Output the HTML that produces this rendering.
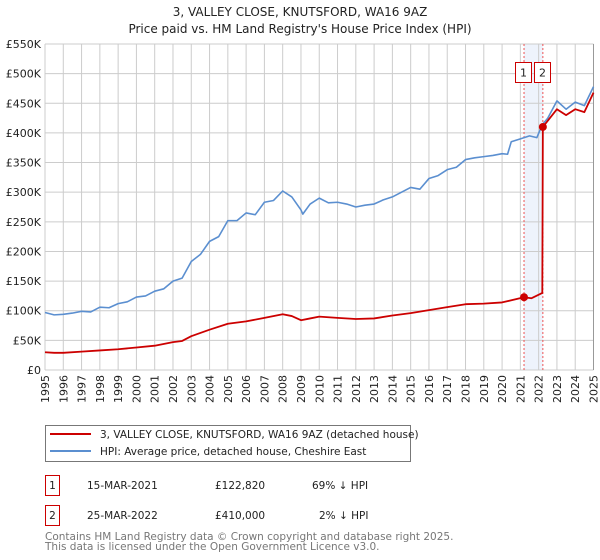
<!DOCTYPE html>
<html><head><meta charset="utf-8">
<style>
body{margin:0;background:#fff;font-family:"DejaVu Sans","Liberation Sans",sans-serif;}
svg{display:block}
</style></head>
<body>
<svg width="600" height="560" xmlns="http://www.w3.org/2000/svg" font-family="DejaVu Sans, Liberation Sans, sans-serif">
<text x="300" y="16" text-anchor="middle" font-size="12" fill="#222">3, VALLEY CLOSE, KNUTSFORD, WA16 9AZ</text>
<text x="300" y="33" text-anchor="middle" font-size="12" fill="#222">Price paid vs. HM Land Registry's House Price Index (HPI)</text>
<g id="grid"></g>
<g id="marks"></g>
<g id="axes"></g>

<g>
<rect x="45.5" y="425.5" width="365" height="36" fill="#fff" stroke="#777"/>
<line x1="50" y1="434" x2="91" y2="434" stroke="#cc0000" stroke-width="2"/>
<text x="100" y="438" font-size="10.5" fill="#222">3, VALLEY CLOSE, KNUTSFORD, WA16 9AZ (detached house)</text>
<line x1="50" y1="451" x2="91" y2="451" stroke="#5b8fd0" stroke-width="2"/>
<text x="100" y="455" font-size="10.5" fill="#222">HPI: Average price, detached house, Cheshire East</text>
</g>

<g font-size="10.5" fill="#222">
<rect x="45.5" y="475.5" width="14" height="20" fill="none" stroke="#cc0000"/>
<text x="52.5" y="489" text-anchor="middle">1</text>
<text x="87" y="489">15-MAR-2021</text>
<text x="215" y="489">£122,820</text>
<text x="312" y="489">69% ↓ HPI</text>
<rect x="45.5" y="505.5" width="14" height="20" fill="none" stroke="#cc0000"/>
<text x="52.5" y="519" text-anchor="middle">2</text>
<text x="87" y="519">25-MAR-2022</text>
<text x="215" y="519">£410,000</text>
<text x="319" y="519">2% ↓ HPI</text>
</g>
<text x="45" y="540" font-size="10.5" fill="#777">Contains HM Land Registry data © Crown copyright and database right 2025.</text>
<text x="45" y="550" font-size="10.5" fill="#777">This data is licensed under the Open Government Licence v3.0.</text>
</svg>
<script>
const yTicks=[0,50,100,150,200,250,300,350,400,450,500,550];
const yTickLabels=["£0","£50K","£100K","£150K","£200K","£250K","£300K","£350K","£400K","£450K","£500K","£550K"];
const xYears=[1995,1996,1997,1998,1999,2000,2001,2002,2003,2004,2005,2006,2007,2008,2009,2010,2011,2012,2013,2014,2015,2016,2017,2018,2019,2020,2021,2022,2023,2024,2025];
const hpiT=[1995,1995.5,1996,1996.5,1997,1997.5,1998,1998.5,1999,1999.5,2000,2000.5,2001,2001.5,2002,2002.5,2003,2003.5,2004,2004.5,2005,2005.5,2006,2006.5,2007,2007.5,2008,2008.5,2009,2009.1,2009.5,2010,2010.5,2011,2011.5,2012,2012.5,2013,2013.5,2014,2014.5,2015,2015.5,2016,2016.5,2017,2017.5,2018,2018.5,2019,2019.5,2020,2020.3,2020.5,2021,2021.5,2021.9,2022.2,2022.5,2023,2023.5,2024,2024.5,2025];
const hpiV=[97,93,94,96,99,98,106,105,112,115,123,125,133,137,150,155,183,195,217,225,252,252,265,262,283,286,302,292,270,263,280,290,282,283,280,275,278,280,287,292,300,308,305,323,328,338,342,355,358,360,362,365,364,385,390,395,392,414,425,454,440,452,446,478];
const redT=[1995,1995.5,1996,1997,1998,1999,2000,2001,2002,2002.5,2003,2004,2005,2006,2007,2008,2008.5,2009,2009.5,2010,2011,2012,2013,2014,2015,2016,2017,2018,2019,2020,2021.2,2021.6,2022.2,2022.23,2023,2023.5,2024,2024.5,2025];
const redV=[30,29,29,31,33,35,38,41,47,49,57,68,78,82,88,94,91,84,87,90,88,86,87,92,96,101,106,111,112,114,122.8,121,130,410,440,430,440,435,468];
const sales=[[2021.2,122.82],[2022.23,410]];
const NS="http://www.w3.org/2000/svg";
const X0=45,X1=593.5,Y0=370,Y1=44;
const x=t=>X0+(t-1995)/30*(X1-X0);
const y=v=>Y0-v/550*(Y0-Y1);
function mk(tag,attrs,parent){const e=document.createElementNS(NS,tag);for(const k in attrs)e.setAttribute(k,attrs[k]);parent.appendChild(e);return e;}
const grid=document.getElementById('grid'),marks=document.getElementById('marks'),axes=document.getElementById('axes');
let band=mk('rect',{x:x(sales[0][0]),y:Y1,width:x(sales[1][0])-x(sales[0][0]),height:Y0-Y1,fill:'#eef3fc'},grid);


yTicks.forEach((v,i)=>{
 let l=mk('line',{x1:X0,x2:X1,y1:y(v),y2:y(v),stroke:'#ccc','stroke-width':1},grid);
 
 
 let t=mk('text',{x:41,y:y(v)+4,'text-anchor':'end','font-size':11,fill:'#222'},axes);
 t.textContent=yTickLabels[i];
 
 
});
xYears.forEach(yr=>{
 let l=mk('line',{x1:x(yr),x2:x(yr),y1:Y1,y2:Y0,stroke:'#ccc','stroke-width':1},grid);
 
 
 let t=mk('text',{x:0,y:0,'font-size':11,fill:'#222','text-anchor':'end',transform:`translate(${x(yr)+4},${Y0+5}) rotate(-90)`},axes);
 t.textContent=yr;
 
 
});
let rb=mk('line',{x1:X1,x2:X1,y1:Y1,y2:Y0,stroke:'#999','stroke-width':1},grid);


sales.forEach((s,i)=>{
 let l=mk('line',{x1:x(s[0]),x2:x(s[0]),y1:Y1,y2:Y0,stroke:'#ee5555','stroke-width':1,'stroke-dasharray':'2,2'},grid);
 
 
 let b=mk('rect',{x:Math.round(x(s[0])-9)+0.5,y:62.5,width:16,height:20,fill:'#fff',stroke:'#cc0000'},marks);
 
 
 let t=mk('text',{x:Math.round(x(s[0])-9)+8.5,y:76.5,'text-anchor':'middle','font-size':11,fill:'#222'},marks);
 t.textContent=String(i+1);
 
 
});
const hp=mk('polyline',{points:hpiT.map((t,i)=>x(t)+','+y(hpiV[i])).join(' '),fill:'none',stroke:'#5b8fd0','stroke-width':1.6,'stroke-linejoin':'round'},marks);


const rp=mk('polyline',{points:redT.map((t,i)=>x(t)+','+y(redV[i])).join(' '),fill:'none',stroke:'#cc0000','stroke-width':1.8,'stroke-linejoin':'round'},marks);


sales.forEach(s=>{
 let c=mk('circle',{cx:x(s[0]),cy:y(s[1]),r:4,fill:'#cc0000'},marks);
 
 
});
</script>
</body></html>
